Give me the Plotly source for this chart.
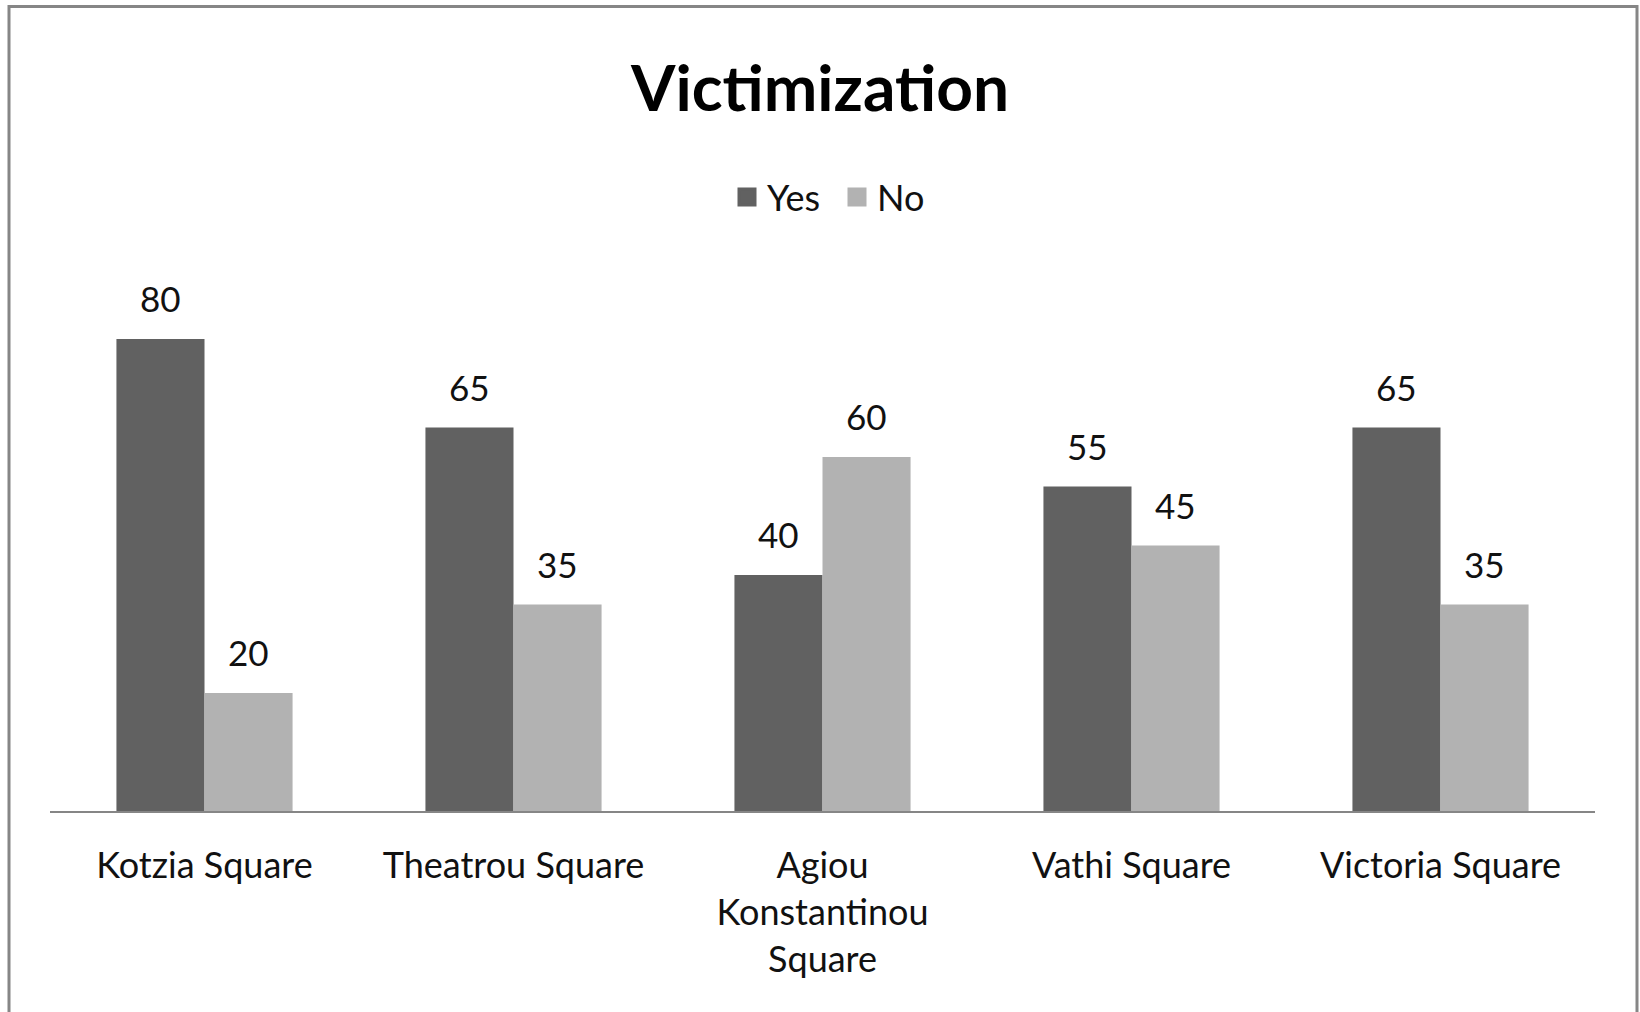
import plotly.graph_objects as go

# Data
SQUARES = ["Kotzia Square", "Theatrou Square", "Agiou<br>Konstantinou<br>Square",
           "Vathi Square", "Victoria Square"]
YES_VALUES = [80, 65, 40, 55, 65]
NO_VALUES = [20, 35, 60, 45, 35]

YES_COLOR = "#616161"
NO_COLOR = "#b2b2b2"
FONT = "Lato, 'Open Sans', sans-serif"

W, H = 1640, 1012
ML, MR, MT, MB = 50, 45, 221, 201
pw, ph = W - ML - MR, H - MT - MB
BARGAP = 0.43
half = (1 - BARGAP) / 4  # centre offset of each bar within its category

fig = go.Figure()
for name, vals, color, side in [("Yes", YES_VALUES, YES_COLOR, -1),
                                ("No", NO_VALUES, NO_COLOR, 1)]:
    fig.add_trace(go.Bar(
        name=name, x=SQUARES, y=vals, showlegend=False,
        marker=dict(color=color, line=dict(width=0)), legendgroup=name,
    ))
    # legend entry with a larger square swatch
    fig.add_trace(go.Scatter(
        name=name, x=[None], y=[None], mode="markers", legendgroup=name,
        marker=dict(symbol="square", size=16, color=color, line=dict(color=color, width=3)),
    ))
    # value labels above the bars
    for i, v in enumerate(vals):
        fig.add_annotation(x=i + side * half, y=v, text=str(v), showarrow=False,
                           yanchor="middle", yshift=41,
                           font=dict(size=35, color="#111111", family=FONT))

# outer frame of the chart area
fig.add_shape(
    type="rect", xref="paper", yref="paper",
    x0=(9 - ML) / pw, x1=(1637 - ML) / pw,
    y0=-0.5, y1=(H - MB - 6.5) / ph,
    line=dict(color="#868686", width=3), fillcolor="rgba(0,0,0,0)",
)

fig.update_layout(
    width=W, height=H,
    margin=dict(l=ML, r=MR, t=MT, b=MB),
    paper_bgcolor="white", plot_bgcolor="white",
    font=dict(family=FONT, color="#111111", size=35),
    title=dict(text="<b>Victimization</b>", x=0.5, xanchor="center",
               y=1 - 89 / H, yanchor="middle",
               font=dict(size=64, family=FONT, color="#000000")),
    barmode="group", bargap=BARGAP, bargroupgap=0,
    legend=dict(orientation="h", x=(738 - 11 - ML) / pw, xanchor="left",
                y=(H - MB - 197) / ph, yanchor="middle", font=dict(size=36),
                itemwidth=30, entrywidth=65, traceorder="normal"),
)
fig.update_xaxes(showline=True, linecolor="#868686", linewidth=2, ticks="",
                 showgrid=False, tickfont=dict(size=36, family=FONT, color="#111111"),
                 ticklabelstandoff=22)
fig.update_yaxes(range=[0, 100], visible=False, showgrid=False)

fig.write_html("out.html", config={"displayModeBar": False},
               post_script="document.body.style.margin='0';")
